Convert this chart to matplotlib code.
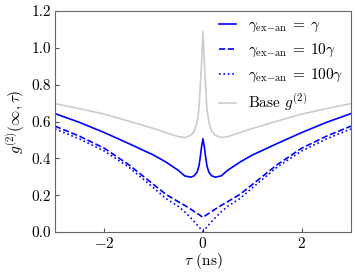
import numpy as np
import matplotlib
matplotlib.use("Agg")
import matplotlib.pyplot as plt

plt.rcParams.update({
    "font.family": "serif",
    "font.serif": ["cmr10"],
    "mathtext.fontset": "cm",
    "axes.formatter.use_mathtext": True,
    "font.size": 11,
})

# |tau| sample positions (ns); curves are symmetric in tau
tau_abs = [0.0, 0.03, 0.05, 0.08, 0.12, 0.18, 0.25, 0.37, 0.5, 0.75, 1.0, 1.5, 2.0, 2.5, 3.0]
g2_base = [1.088, 0.906, 0.815, 0.67, 0.595, 0.545, 0.525, 0.513, 0.518, 0.54, 0.562, 0.602, 0.64, 0.67, 0.697]
g2_gamma = [0.506, 0.46, 0.415, 0.36, 0.325, 0.305, 0.298, 0.305, 0.335, 0.38, 0.418, 0.48, 0.54, 0.595, 0.643]
g2_10gamma = [0.08, 0.085, 0.09, 0.095, 0.102, 0.112, 0.125, 0.145, 0.165, 0.205, 0.258, 0.365, 0.455, 0.52, 0.575]
g2_100gamma = [0.005, 0.012, 0.018, 0.028, 0.04, 0.058, 0.078, 0.11, 0.14, 0.182, 0.24, 0.352, 0.44, 0.505, 0.56]

labels = [r"$\gamma_{\mathrm{ex}{-}\mathrm{an}}\:=\:\gamma$",
          r"$\gamma_{\mathrm{ex}{-}\mathrm{an}}\:=\:10\gamma$",
          r"$\gamma_{\mathrm{ex}{-}\mathrm{an}}\:=\:100\gamma$",
          r"Base $g^{(2)}$"]


def sym(t, v):
    t = np.asarray(t)
    v = np.asarray(v)
    return np.concatenate([-t[:0:-1], t]), np.concatenate([v[:0:-1], v])


fig = plt.figure(figsize=(3.57, 2.8), dpi=100)
ax = fig.add_axes([0.154, 0.171, 0.829, 0.79])

blue = "#0000ff"
t, v = sym(tau_abs, g2_gamma)
ax.plot(t, v, color=blue, lw=1.2, ls="-", label=labels[0])
t, v = sym(tau_abs, g2_10gamma)
ax.plot(t, v, color=blue, lw=1.2, ls="--", label=labels[1])
t, v = sym(tau_abs, g2_100gamma)
ax.plot(t, v, color=blue, lw=1.2, ls=":", label=labels[2])
t, v = sym(tau_abs, g2_base)
ax.plot(t, v, color="#cccccc", lw=1.2, ls="-", label=labels[3])

ax.set_xlim(-3, 3)
ax.set_ylim(0, 1.2)
ax.set_xticks([-2, 0, 2])
ax.set_yticks([0.0, 0.2, 0.4, 0.6, 0.8, 1.0, 1.2])
ax.set_yticklabels(["0.0", "0.2", "0.4", "0.6", "0.8", "1.0", "1.2"])
ax.tick_params(direction="in", length=3, color="#555555", pad=3)
for s in ax.spines.values():
    s.set_color("#666666")
ax.set_xlabel(r"$\tau$ (ns)", labelpad=0)
ax.set_ylabel(r"$g^{(2)}(\infty,\tau)$", labelpad=3)

ax.legend(loc="upper right", frameon=False, handlelength=1.1, labelspacing=0.5,
          borderaxespad=0.3, borderpad=0.2)

fig.savefig("out.png", dpi=100)
